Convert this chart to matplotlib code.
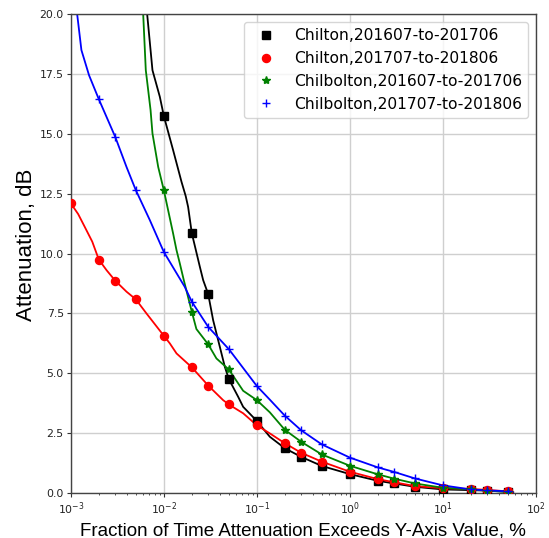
import numpy as np
import matplotlib
matplotlib.use("Agg")
import matplotlib.pyplot as plt

# Exceedance percentages where markers are drawn
pct = [0.001, 0.002, 0.003, 0.005, 0.01, 0.02, 0.03, 0.05, 0.1, 0.2, 0.3, 0.5,
       1, 2, 3, 5, 10, 20, 30, 50]

labels = ["Chilton,201607-to-201706", "Chilton,201707-to-201806",
          "Chilbolton,201607-to-201706", "Chilbolton,201707-to-201806"]

nan = np.nan
chilton_1617 = [nan, nan, nan, nan, 15.75, 10.85, 8.31, 4.76, 3.01, 1.87, 1.51, 1.13,
                0.79, 0.51, 0.40, 0.26, 0.15, 0.12, 0.10, 0.05]
chilton_1718 = [12.1, 9.75, 8.87, 8.09, 6.57, 5.25, 4.49, 3.70, 2.83, 2.08, 1.68, 1.31,
                0.89, 0.58, 0.45, 0.29, 0.20, 0.17, 0.13, 0.07]
chilbolton_1617 = [nan, nan, nan, nan, 12.65, 7.57, 6.21, 5.16, 3.88, 2.64, 2.14, 1.61,
                   1.14, 0.78, 0.60, 0.40, 0.22, 0.15, 0.10, 0.05]
chilbolton_1718 = [nan, 16.45, 14.88, 12.65, 10.07, 7.99, 6.94, 6.01, 4.47, 3.23, 2.62, 2.03,
                   1.48, 1.07, 0.88, 0.61, 0.32, 0.15, 0.11, 0.07]

# extra points (between / beyond the markers)
extra_x = {
    0: [0.0062, 0.00662, 0.00755, 0.00906, 0.01259, 0.01549, 0.0172, 0.01825, 0.0244,
        0.0265, 0.0339, 0.040, 0.0453, 0.063, 0.0713, 0.138, 57],
    1: [0.0012, 0.00141, 0.0017, 0.00242, 0.00397, 0.00651, 0.0116, 0.0137, 0.0434,
        0.0713, 0.138, 57],
    2: [0.0057, 0.0060, 0.0064, 0.0072, 0.00755, 0.0087, 0.01259, 0.01368,
        0.01486, 0.0164, 0.0224, 0.0368, 0.0713, 0.138, 57],
    3: [0.00105, 0.00117, 0.0013, 0.00157, 0.00397, 0.00707, 0.0168, 0.138, 57],
}
extra_y = {
    0: [21.5, 20.0, 17.66, 16.55, 14.32, 13.0, 12.4, 11.95, 9.45,
        8.89, 7.22, 6.11, 5.27, 4.02, 3.6, 2.35, 0.02],
    1: [11.65, 11.12, 10.5, 9.31, 8.41, 7.5, 6.25, 5.83, 3.88, 3.33, 2.49, 0.02],
    2: [21.5, 20.0, 17.66, 16.0, 15.02, 13.62, 10.84, 10.15,
        9.59, 8.89, 6.85, 5.62, 4.27, 3.37, 0.02],
    3: [21.5, 20.0, 18.5, 17.45, 13.62, 11.4, 8.61, 3.9, 0.02],
}

series = [chilton_1617, chilton_1718, chilbolton_1617, chilbolton_1718]
colors = ["black", "red", "green", "blue"]
markers = ["s", "o", "*", "+"]
msizes = [5.2, 5.8, 6.0, 6.0]

fig = plt.figure(figsize=(5.49, 5.38), dpi=100)
ax = fig.add_axes([0.129, 0.0836, 0.847, 0.890])

for i, (ys, c, m, ms, lab) in enumerate(zip(series, colors, markers, msizes, labels)):
    xs = np.array(pct, dtype=float)
    ya = np.array(ys, dtype=float)
    ok = ~np.isnan(ya)
    lx = np.concatenate([xs[ok], extra_x[i]])
    ly = np.concatenate([ya[ok], extra_y[i]])
    order = np.argsort(lx)
    ax.plot(lx[order], ly[order], color=c, lw=1.3, zorder=2)
    ax.plot(xs[ok], ya[ok], linestyle="none", marker=m, color=c, ms=ms,
            mew=1.0, label=lab, zorder=3)

ax.set_xscale("log")
ax.set_xlim(1e-3, 1e2)
ax.set_ylim(0, 20)
ax.set_yticks(np.arange(0, 20.01, 2.5))
ax.grid(True, which="major", color="#cfcfcf", lw=1)
ax.set_axisbelow(True)
ax.tick_params(which="major", labelsize=7.8, length=2.6, width=0.8,
               colors="#333333", labelcolor="#222222", pad=2.5)
ax.tick_params(which="minor", length=1.6, width=0.6, colors="#333333")
for s in ax.spines.values():
    s.set_color("#444444")
    s.set_linewidth(1.0)
ax.set_xlabel("Fraction of Time Attenuation Exceeds Y-Axis Value, %",
              fontsize=13.5, family="Liberation Sans", labelpad=4)
ax.set_ylabel("Attenuation, dB", fontsize=16, family="Liberation Sans", labelpad=5)
ax.yaxis.set_label_coords(-0.072, 0.518)
ax.legend(loc="upper right", fontsize=11.2)

fig.savefig("out.png", dpi=100)
